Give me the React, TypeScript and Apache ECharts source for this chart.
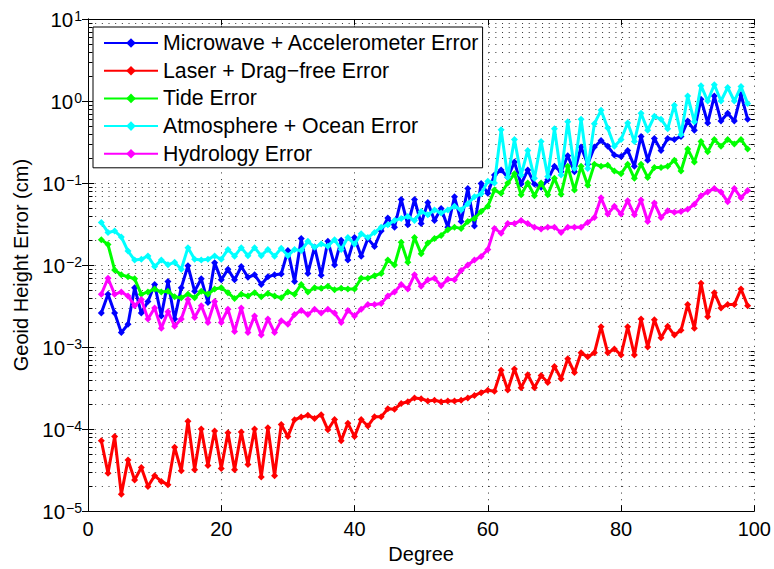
import React, { useEffect, useRef } from "react";
import * as echarts from "echarts";

const degrees: number[] = Array.from({ length: 98 }, (_, i) => i + 2);

const microwave = [
  0.0026, 0.0044, 0.0026, 0.0015, 0.0019, 0.0053, 0.0026, 0.0036, 0.0058, 0.0024,
  0.0063, 0.0022, 0.0053, 0.0098, 0.0048, 0.0068, 0.0035, 0.0107, 0.0066, 0.0089,
  0.0066, 0.0096, 0.0071, 0.0076, 0.0058, 0.0072, 0.0076, 0.0078, 0.015, 0.0063,
  0.021, 0.0079, 0.0166, 0.0075, 0.0195, 0.01, 0.02, 0.0115, 0.0216, 0.0128,
  0.021, 0.0168, 0.026, 0.0375, 0.029, 0.063, 0.031, 0.063, 0.032, 0.058,
  0.035, 0.049, 0.029, 0.068, 0.034, 0.086, 0.03, 0.099, 0.075, 0.125,
  0.144, 0.118, 0.18, 0.097, 0.144, 0.097, 0.089, 0.11, 0.16, 0.137,
  0.215, 0.137, 0.275, 0.17, 0.275, 0.33, 0.28, 0.22, 0.21, 0.25,
  0.16, 0.37, 0.19, 0.35, 0.25, 0.35, 0.34, 0.37, 0.57, 0.44,
  1.05, 0.54, 1.15, 0.57, 0.71, 0.57, 1.2, 0.6,
];

const laser = [
  7.2e-5, 2.9e-5, 8.1e-5, 1.6e-5, 4.2e-5, 2.4e-5, 3.4e-5, 2.0e-5, 2.7e-5, 2.3e-5,
  2.1e-5, 6.0e-5, 3.1e-5, 1.25e-4, 3.2e-5, 1.0e-4, 3.6e-5, 9.5e-5, 3.3e-5, 9.0e-5,
  3.2e-5, 9.2e-5, 3.7e-5, 1.0e-4, 2.6e-5, 1.04e-4, 2.7e-5, 1.14e-4, 8.1e-5, 1.3e-4,
  1.4e-4, 1.47e-4, 1.35e-4, 1.5e-4, 9.8e-5, 1.31e-4, 7.2e-5, 1.18e-4, 8.1e-5, 1.31e-4,
  1.09e-4, 1.41e-4, 1.41e-4, 1.77e-4, 1.75e-4, 2.05e-4, 2.15e-4, 2.4e-4, 2.35e-4, 2.2e-4,
  2.25e-4, 2.15e-4, 2.2e-4, 2.2e-4, 2.25e-4, 2.4e-4, 2.57e-4, 2.78e-4, 2.97e-4, 2.9e-4,
  5.2e-4, 3.0e-4, 5.4e-4, 3.2e-4, 4.6e-4, 3.2e-4, 4.5e-4, 3.7e-4, 5.8e-4, 4.1e-4,
  7.2e-4, 4.9e-4, 8.5e-4, 7.6e-4, 8.5e-4, 1.77e-3, 8.5e-4, 9.5e-4, 8.0e-4, 1.77e-3,
  8.0e-4, 2.2e-3, 1.0e-3, 2.15e-3, 1.3e-3, 1.8e-3, 1.4e-3, 1.6e-3, 3.3e-3, 1.7e-3,
  6.0e-3, 2.35e-3, 4.6e-3, 3.0e-3, 3.3e-3, 3.3e-3, 5.1e-3, 3.2e-3,
];

const tide = [
  0.0204, 0.0178, 0.0087, 0.0076, 0.0072, 0.0068, 0.0044, 0.0047, 0.0051, 0.0047,
  0.0048, 0.0041, 0.004, 0.0044, 0.004, 0.0048, 0.0044, 0.0051, 0.0053, 0.0046,
  0.0039, 0.0044, 0.0042, 0.0046, 0.0041, 0.0045, 0.0042, 0.004, 0.0047, 0.0044,
  0.0058, 0.0047, 0.0053, 0.0052, 0.0055, 0.005, 0.0052, 0.0051, 0.0051, 0.0069,
  0.0069, 0.0074, 0.0079, 0.0115, 0.01, 0.019, 0.0108, 0.0216, 0.0137, 0.0186,
  0.021, 0.023, 0.027, 0.029, 0.028, 0.034, 0.037, 0.045, 0.052, 0.082,
  0.075, 0.1, 0.13, 0.072, 0.1, 0.07, 0.1, 0.072, 0.114, 0.073,
  0.16, 0.082, 0.16, 0.094, 0.17, 0.16, 0.165, 0.14, 0.13, 0.17,
  0.114, 0.17, 0.117, 0.155, 0.155, 0.16, 0.19, 0.14, 0.26, 0.18,
  0.32, 0.24, 0.34, 0.28, 0.34, 0.3, 0.34, 0.26,
];

const atmosphere = [
  0.033, 0.025, 0.026, 0.022, 0.0148, 0.0115, 0.0118, 0.0129, 0.0096, 0.0115,
  0.0101, 0.0108, 0.0089, 0.0163, 0.0118, 0.0115, 0.0118, 0.0129, 0.0118, 0.0155,
  0.0128, 0.0163, 0.013, 0.0163, 0.013, 0.0155, 0.0128, 0.016, 0.013, 0.0155,
  0.015, 0.0195, 0.0165, 0.018, 0.017, 0.0204, 0.0155, 0.0216, 0.018, 0.024,
  0.0216, 0.025, 0.029, 0.031, 0.035, 0.037, 0.039, 0.035, 0.045, 0.041,
  0.047, 0.043, 0.047, 0.052, 0.047, 0.056, 0.068, 0.074, 0.105, 0.1,
  0.445, 0.118, 0.34, 0.125, 0.25, 0.114, 0.32, 0.12, 0.46, 0.125,
  0.56, 0.15, 0.6, 0.15, 0.53, 0.77, 0.47, 0.28, 0.34, 0.54,
  0.32, 0.71, 0.44, 0.65, 0.6, 0.46, 0.89, 0.39, 1.15, 0.56,
  1.54, 1.0, 1.58, 1.0, 1.46, 1.0, 1.5, 0.93,
];

const hydrology = [
  0.0044, 0.0069, 0.0044, 0.0047, 0.0042, 0.0032, 0.0038, 0.0022, 0.003, 0.0017,
  0.0027, 0.0018, 0.0022, 0.0038, 0.0023, 0.0032, 0.002, 0.0036, 0.002, 0.0029,
  0.00155, 0.003, 0.0015, 0.0024, 0.0014, 0.0022, 0.0015, 0.0021, 0.0019, 0.0025,
  0.0028, 0.0025, 0.0029, 0.0026, 0.0029, 0.0026, 0.002, 0.0028, 0.0024, 0.0029,
  0.0033, 0.0033, 0.0034, 0.0042, 0.0047, 0.0058, 0.0051, 0.0076, 0.0055, 0.0066,
  0.0069, 0.0056, 0.0067, 0.0066, 0.0086, 0.01, 0.0115, 0.0127, 0.0155, 0.028,
  0.0245, 0.032, 0.032, 0.035, 0.032, 0.029, 0.0275, 0.029, 0.029, 0.025,
  0.029, 0.029, 0.029, 0.033, 0.038, 0.066, 0.042, 0.052, 0.042, 0.061,
  0.041, 0.062, 0.034, 0.057, 0.038, 0.046, 0.044, 0.045, 0.048, 0.055,
  0.07, 0.078, 0.086, 0.078, 0.059, 0.086, 0.066, 0.081,
];

const seriesNames = [
  "Microwave + Accelerometer Error",
  "Laser + Drag\u2212free Error",
  "Tide Error",
  "Atmosphere + Ocean Error",
  "Hydrology Error",
];
const seriesColors = ["#0000ff", "#ff0000", "#00ff00", "#00ffff", "#ff00ff"];
const seriesValues = [microwave, laser, tide, atmosphere, hydrology];

const decadeExponents = [-5, -4, -3, -2, -1, 0];
const minorMultipliers = [2, 3, 4, 5, 6, 7, 8, 9];

const FONT = "'Liberation Sans', Arial, Helvetica, sans-serif";
const GRID_COLOR = "#333333";
const DOT: number[] = [1, 5.67];

export default function App() {
  const ref = useRef<HTMLDivElement>(null);

  useEffect(() => {
    if (!ref.current) return;
    const chart = echarts.init(ref.current, undefined, { renderer: "svg" });

    const minorValues: number[][] = [];
    decadeExponents.forEach((e) =>
      minorMultipliers.forEach((k) => minorValues.push([0, Number((k * Math.pow(10, e)).toPrecision(3))]))
    );

    const yLabel = (v: number) => {
      const e = Math.round(Math.log10(v));
      const s = e < 0 ? "\u2212" + String(-e) : String(e);
      return "{b|10}{e|" + s + "}";
    };

    const logAxisBase = {
      type: "log" as const,
      logBase: 10,
      min: 1e-5,
      max: 10,
      interval: 1,
      axisLine: { show: true, lineStyle: { color: "#000", width: 1 } },
      axisTick: { show: true, inside: true, length: 6, lineStyle: { color: "#000" } },
    };

    const lineSeries = seriesNames.map((name, i) => ({
      name,
      type: "line" as const,
      data: degrees.map((d, j) => [d, seriesValues[i][j]]),
      symbol: "diamond",
      symbolSize: 7,
      showSymbol: true,
      lineStyle: { color: seriesColors[i], width: 3 },
      itemStyle: { color: seriesColors[i] },
      z: 3 + i,
      silent: true,
    }));

    chart.setOption({
      animation: false,
      backgroundColor: "#fff",
      textStyle: { fontFamily: FONT },
      grid: { left: 88, right: 19, top: 19, bottom: 57, containLabel: false },
      legend: {
        data: seriesNames,
        orient: "vertical",
        left: 93,
        top: 27,
        padding: [5, 3, 3, 10],
        itemWidth: 54,
        itemHeight: 12,
        itemGap: 5.7,
        backgroundColor: "#fff",
        borderColor: "#000",
        borderWidth: 1,
        borderRadius: 0,
        selectedMode: false,
        textStyle: { fontFamily: FONT, fontSize: 21.3, color: "#000", lineHeight: 22 },
      },
      xAxis: [
        {
          type: "value",
          min: 0,
          max: 100,
          interval: 20,
          name: "Degree",
          nameLocation: "middle",
          nameGap: 27,
          nameTextStyle: { fontFamily: FONT, fontSize: 20, color: "#000" },
          axisLine: { show: true, lineStyle: { color: "#000", width: 1 } },
          axisTick: { show: true, inside: true, length: 6, lineStyle: { color: "#000" } },
          axisLabel: { fontFamily: FONT, fontSize: 20, color: "#000", margin: 8 },
          splitLine: { show: true, lineStyle: { color: GRID_COLOR, width: 1, type: DOT } },
        },
        {
          type: "value",
          position: "top",
          min: 0,
          max: 100,
          interval: 20,
          axisLine: { show: true, onZero: false, lineStyle: { color: "#000", width: 1 } },
          axisTick: { show: true, inside: true, length: 6, lineStyle: { color: "#000" } },
          axisLabel: { show: false },
          splitLine: { show: false },
        },
      ],
      yAxis: [
        {
          ...logAxisBase,
          name: "Geoid Height Error (cm)",
          nameLocation: "middle",
          nameGap: 55,
          nameTextStyle: { fontFamily: FONT, fontSize: 20, color: "#000" },
          axisLabel: {
            formatter: yLabel,
            margin: 6,
            color: "#000",
            rich: {
              b: { fontFamily: FONT, fontSize: 20.5, color: "#000", lineHeight: 20 },
              e: {
                fontFamily: FONT,
                fontSize: 14,
                color: "#000",
                lineHeight: 14,
                verticalAlign: "top",
                padding: [0, 0, 20, 1],
              },
            },
          },
          splitLine: { show: true, lineStyle: { color: GRID_COLOR, width: 1, type: DOT } },
        },
        {
          ...logAxisBase,
          position: "right",
          axisLabel: { show: false },
          splitLine: { show: false },
        },
      ],
      series: [
        {
          type: "custom",
          name: "minorGrid",
          silent: true,
          clip: false,
          z: 1,
          data: minorValues,
          renderItem: (_params: any, api: any) => {
            const v = api.value(1);
            const a = api.coord([0, v]);
            const b = api.coord([100, v]);
            const y = Math.round(a[1]) + 0.5;
            const x0 = Math.round(a[0]) + 0.5;
            const x1 = Math.round(b[0]) + 0.5;
            return {
              type: "group",
              children: [
                {
                  type: "line",
                  shape: { x1: x0, y1: y, x2: x1, y2: y },
                  style: { stroke: GRID_COLOR, lineWidth: 1, lineDash: DOT },
                },
                {
                  type: "line",
                  shape: { x1: x0, y1: y, x2: x0 + 4, y2: y },
                  style: { stroke: "#000", lineWidth: 1 },
                },
                {
                  type: "line",
                  shape: { x1: x1 - 4, y1: y, x2: x1, y2: y },
                  style: { stroke: "#000", lineWidth: 1 },
                },
              ],
            };
          },
        },
        ...lineSeries,
      ],
    });

    return () => chart.dispose();
  }, []);

  return (
    <div
      ref={ref}
      style={{ position: "fixed", left: 0, top: 0, width: 774, height: 569, background: "#fff" }}
    />
  );
}
